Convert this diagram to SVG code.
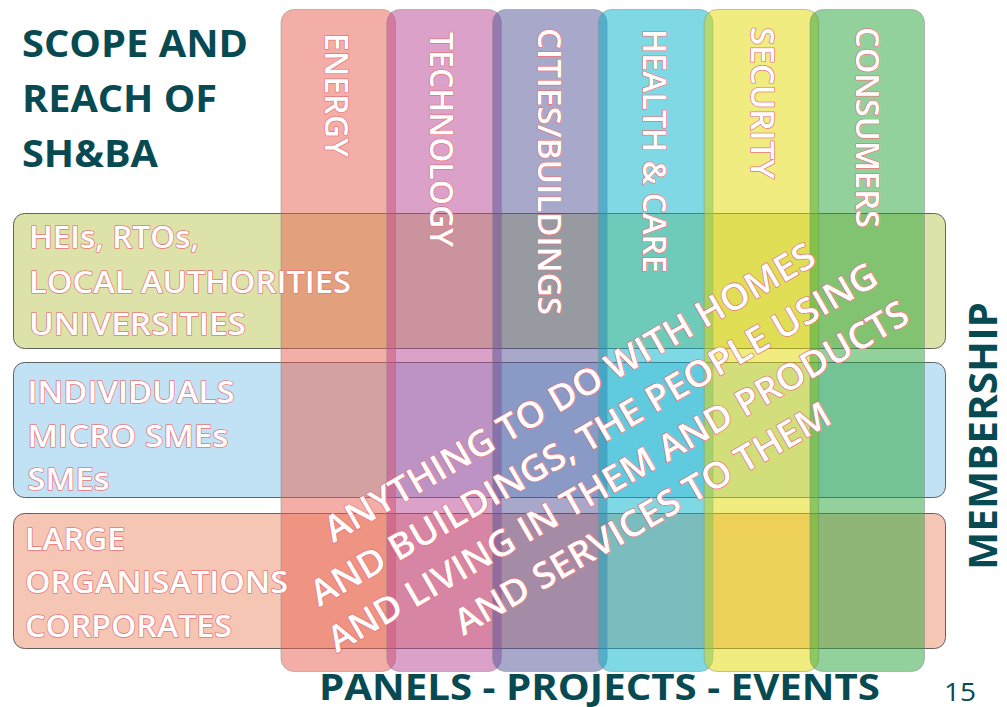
<svg xmlns="http://www.w3.org/2000/svg" width="1007" height="707" viewBox="0 0 1007 707">
<style>
.row{stroke:#4a4a4a;stroke-opacity:0.85;stroke-width:1}
.col{stroke:#8a8a8a;stroke-opacity:0.5;stroke-width:1;fill-opacity:0.5}
.lbl{font-family:"Open Sans",Lato,"Liberation Sans",sans-serif;font-weight:600;fill:#fff;stroke:#E8767C;stroke-width:1.5;paint-order:stroke;stroke-linejoin:round}
.title{font-family:"Open Sans",Lato,"Liberation Sans",sans-serif;font-weight:bold;fill:#084A52}
</style>
<rect width="1007" height="707" fill="#fff"/>

<g id="row-heis">
<rect class="row" x="13.5" y="213.5" width="932" height="135" rx="11" fill="#DDE3A8"/>
</g>
<g id="row-smes">
<rect class="row" x="13.5" y="362.5" width="932" height="135" rx="11" fill="#C0E2F4"/>
</g>
<g id="row-large">
<rect class="row" x="13.5" y="513.5" width="932" height="135" rx="11" fill="#F6C6B4"/>
</g>

<g id="col-energy"><rect class="col" x="281" y="9.5" width="114.5" height="662" rx="13" fill="#E8604F"/></g>
<g id="col-technology"><rect class="col" x="386.8" y="9.5" width="114.5" height="662" rx="13" fill="#B74393"/></g>
<g id="col-cities"><rect class="col" x="492.6" y="9.5" width="114.5" height="662" rx="13" fill="#515197"/></g>
<g id="col-health"><rect class="col" x="598.4" y="9.5" width="114.5" height="662" rx="13" fill="#00B3C9"/></g>
<g id="col-security"><rect class="col" x="704.2" y="9.5" width="114.5" height="662" rx="13" fill="#E1D900"/></g>
<g id="col-consumers"><rect class="col" x="810" y="9.5" width="114.5" height="662" rx="13" fill="#27A339"/></g>

<g id="title" class="title" font-size="37.5">
<text x="22" y="57" textLength="226" lengthAdjust="spacingAndGlyphs">SCOPE AND</text>
<text x="22" y="112" textLength="195" lengthAdjust="spacingAndGlyphs">REACH OF</text>
<text x="22" y="167" textLength="136" lengthAdjust="spacingAndGlyphs">SH&amp;BA</text>
</g>

<g id="row-heis-label" class="lbl" font-size="31.5">
<text x="29" y="248" textLength="170" lengthAdjust="spacingAndGlyphs">HEIs, RTOs,</text>
<text x="29" y="292.5" textLength="322" lengthAdjust="spacingAndGlyphs">LOCAL AUTHORITIES</text>
<text x="29" y="334.5" textLength="217" lengthAdjust="spacingAndGlyphs">UNIVERSITIES</text>
</g>
<g id="row-smes-label" class="lbl" font-size="31.5">
<text x="27.5" y="402.5" textLength="207" lengthAdjust="spacingAndGlyphs">INDIVIDUALS</text>
<text x="27.5" y="446.5" textLength="201" lengthAdjust="spacingAndGlyphs">MICRO SMEs</text>
<text x="27.5" y="490" textLength="82" lengthAdjust="spacingAndGlyphs">SMEs</text>
</g>
<g id="row-large-label" class="lbl" font-size="31.5">
<text x="25" y="549.5" textLength="100" lengthAdjust="spacingAndGlyphs">LARGE</text>
<text x="25" y="592.5" textLength="263" lengthAdjust="spacingAndGlyphs">ORGANISATIONS</text>
<text x="25" y="636.5" textLength="207" lengthAdjust="spacingAndGlyphs">CORPORATES</text>
</g>

<g id="col-labels" class="lbl" font-size="33">
<text transform="translate(325,33) rotate(90)" textLength="124" lengthAdjust="spacingAndGlyphs">ENERGY</text>
<text transform="translate(430,32) rotate(90)" textLength="215" lengthAdjust="spacingAndGlyphs">TECHNOLOGY</text>
<text transform="translate(538,28) rotate(90)" textLength="287" lengthAdjust="spacingAndGlyphs">CITIES/BUILDINGS</text>
<text transform="translate(643,29) rotate(90)" textLength="244" lengthAdjust="spacingAndGlyphs">HEALTH &amp; CARE</text>
<text transform="translate(751,27) rotate(90)" textLength="152" lengthAdjust="spacingAndGlyphs">SECURITY</text>
<text transform="translate(856,27) rotate(90)" textLength="201" lengthAdjust="spacingAndGlyphs">CONSUMERS</text>
</g>

<g id="scope-statement" class="lbl" font-size="36" text-anchor="middle" transform="rotate(-30)">
<text x="297" y="637" textLength="560" lengthAdjust="spacingAndGlyphs">ANYTHING TO DO WITH HOMES</text>
<text x="297" y="685.5" textLength="648" lengthAdjust="spacingAndGlyphs">AND BUILDINGS, THE PEOPLE USING</text>
<text x="297" y="734" textLength="664" lengthAdjust="spacingAndGlyphs">AND LIVING IN THEM AND PRODUCTS</text>
<text x="297" y="782.5" textLength="428" lengthAdjust="spacingAndGlyphs">AND SERVICES TO THEM</text>
</g>

<g id="membership" class="title" font-size="40">
<text transform="translate(997,570) rotate(-90)" textLength="268" lengthAdjust="spacingAndGlyphs">MEMBERSHIP</text>
</g>
<g id="activities" class="title" font-size="35">
<text x="319" y="700" textLength="561" lengthAdjust="spacingAndGlyphs">PANELS - PROJECTS - EVENTS</text>
</g>
<g id="page-number">
<text x="944" y="701" font-family="'Open Sans',Lato,'Liberation Sans',sans-serif" font-size="25" fill="#084A52" textLength="32" lengthAdjust="spacingAndGlyphs">15</text>
</g>
</svg>
